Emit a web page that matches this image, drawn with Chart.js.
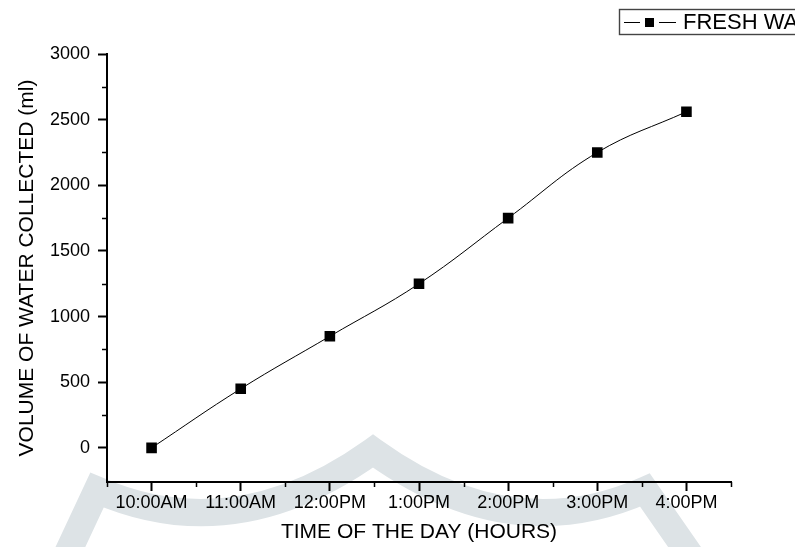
<!DOCTYPE html>
<html>
<head>
<meta charset="utf-8">
<title>Fresh water collected</title>
<script src="https://cdn.jsdelivr.net/npm/chart.js@4.4.1/dist/chart.umd.min.js"></script>
<style>
  html, body { margin: 0; padding: 0; background: #fff; overflow: hidden; }
  canvas { display: block; }
</style>
</head>
<body>
<canvas id="myChart" width="795" height="547"></canvas>
<script>
const hours = ["10:00AM", "11:00AM", "12:00PM", "1:00PM", "2:00PM", "3:00PM", "4:00PM"];
const freshWater = [0, 450, 850, 1250, 1750, 2250, 2560];
const volumeTicks = [0, 500, 1000, 1500, 2000, 2500, 3000];
const seriesLabel = "FRESH WATER";

const fontFamily = "'Liberation Sans', Arial, sans-serif";

// grey chevron behind the plot
const backdrop = {
    id: 'backdrop',
    beforeDraw(chart) {
        const ctx = chart.ctx;
        ctx.save();
        ctx.strokeStyle = '#dde3e6';
        ctx.lineWidth = 27;
        ctx.lineJoin = 'miter';
        ctx.beginPath();
        ctx.moveTo(62, 565);
        ctx.lineTo(97, 490);
        ctx.quadraticCurveTo(235, 550, 373, 451);
        ctx.quadraticCurveTo(510, 550, 645, 490);
        ctx.lineTo(697, 565);
        ctx.stroke();
        ctx.restore();
    }
};

// small ticks between the labelled ones
const minorTicks = {
    id: 'minorTicks',
    afterDraw(chart) {
        const { ctx, scales: { x, y } } = chart;
        ctx.save();
        ctx.strokeStyle = '#000';
        ctx.lineWidth = 1.5;
        ctx.beginPath();
        for (let i = 0; i <= hours.length; i++) {
            const px = Math.round(x.getPixelForValue(i - 0.5)) + 0.5;
            ctx.moveTo(px, x.top);
            ctx.lineTo(px, x.top + 5);
        }
        for (let v = 250; v < 3000; v += 500) {
            const py = Math.round(y.getPixelForValue(v)) + 0.5;
            ctx.moveTo(y.right, py);
            ctx.lineTo(y.right - 5, py);
        }
        ctx.stroke();
        ctx.restore();
    }
};

// boxed legend in the top right corner
const legendBox = {
    id: 'legendBox',
    afterDraw(chart) {
        const ctx = chart.ctx;
        const cy = 22;
        ctx.save();
        ctx.strokeStyle = '#444';
        ctx.lineWidth = 1.4;
        ctx.strokeRect(619.5, 9.5, 300, 25);
        ctx.strokeStyle = '#000';
        ctx.lineWidth = 1;
        ctx.beginPath();
        ctx.moveTo(624, cy + 0.5);
        ctx.lineTo(640, cy + 0.5);
        ctx.moveTo(659, cy + 0.5);
        ctx.lineTo(676, cy + 0.5);
        ctx.stroke();
        ctx.fillStyle = '#000';
        ctx.fillRect(645, cy - 4, 9, 9);
        ctx.font = "22px " + fontFamily;
        ctx.textBaseline = 'middle';
        ctx.fillText(chart.data.datasets[0].label, 683, cy + 1);
        ctx.restore();
    }
};

const ctx = document.getElementById("myChart");

let myChart = new Chart(ctx, {
    type: "line",
    data: {
        labels: hours,
        datasets: [
            {
                label: seriesLabel,
                data: freshWater,
                borderColor: "#000",
                borderWidth: 1,
                tension: 0.4,
                pointStyle: "rect",
                pointRadius: 7.5,
                pointBackgroundColor: "#000",
                pointBorderWidth: 0,
            },
        ],
    },
    options: {
        responsive: false,
        animation: false,
        events: [],
        layout: {
            padding: { left: 11, top: 54, right: 64, bottom: 0 }
        },
        plugins: {
            legend: { display: false },
            tooltip: { enabled: false }
        },
        scales: {
            x: {
                type: "category",
                offset: true,
                grid: {
                    drawOnChartArea: false,
                    offset: false,
                    tickLength: 9,
                    tickWidth: 2,
                    tickColor: "#000"
                },
                border: { color: "#000", width: 2 },
                ticks: {
                    color: "#000",
                    padding: 1,
                    maxRotation: 0,
                    autoSkip: false,
                    font: { family: fontFamily, size: 18 }
                },
                title: {
                    display: true,
                    text: "TIME OF THE DAY (HOURS)",
                    color: "#000",
                    font: { family: fontFamily, size: 21 },
                    padding: { top: 4, bottom: 2 }
                },
                afterFit(scale) { scale.height = 65; }
            },
            y: {
                min: -260,
                max: 3000,
                afterBuildTicks(scale) {
                    scale.ticks = volumeTicks.map(v => ({ value: v }));
                },
                grid: {
                    drawOnChartArea: false,
                    tickLength: 9,
                    tickWidth: 2,
                    tickColor: "#000"
                },
                border: { color: "#000", width: 2 },
                ticks: {
                    color: "#000",
                    padding: 8,
                    font: { family: fontFamily, size: 18 },
                    callback: (value) => String(value)
                },
                title: {
                    display: true,
                    text: "VOLUME OF WATER COLLECTED (ml)",
                    color: "#000",
                    font: { family: fontFamily, size: 21 }
                },
                afterFit(scale) { scale.width = 96; }
            }
        }
    },
    plugins: [backdrop, minorTicks, legendBox]
});
</script>
</body>
</html>
